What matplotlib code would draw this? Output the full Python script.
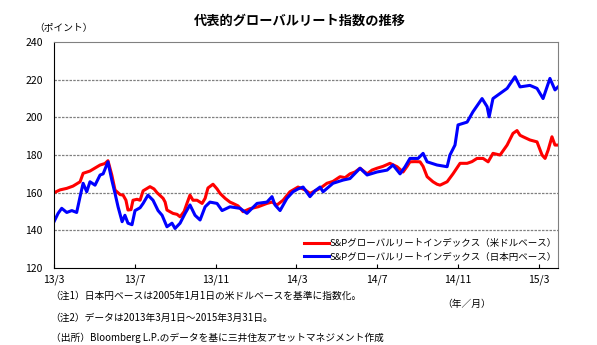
import matplotlib.pyplot as plt
import numpy as np

plt.rcParams['font.family'] = ['Noto Sans CJK JP', 'DejaVu Sans']

# months since 2013/3/1, values (points)
usd_month = [0.0, 0.30, 0.63, 0.94, 1.29, 1.44, 1.78, 2.28, 2.52, 2.67, 2.86,
             3.02, 3.27, 3.42, 3.56, 3.66, 3.81, 3.91, 4.11, 4.26, 4.41, 4.75,
             4.95, 5.10, 5.40, 5.50, 5.59, 5.89, 6.09, 6.24, 6.44, 6.58, 6.73,
             6.88, 7.08, 7.33, 7.48, 7.62, 7.87, 8.07, 8.22, 8.47, 8.71, 8.86,
             9.11, 9.36, 9.70, 10.10, 10.54, 10.79, 11.04, 11.34, 11.68, 12.08, 12.43,
             12.67, 12.92, 13.17, 13.51, 13.81, 14.16, 14.41, 14.65, 14.90, 15.15, 15.50,
             15.74, 15.99, 16.29, 16.63, 16.98, 17.28, 17.48, 17.62, 17.87, 18.12, 18.27,
             18.47, 18.76, 18.96, 19.11, 19.46, 19.75, 20.10, 20.45, 20.69, 20.94, 21.24,
             21.49, 21.73, 22.08, 22.43, 22.72, 22.92, 23.07, 23.22, 23.56, 23.91, 24.16,
             24.31, 24.46, 24.65, 24.80, 24.95]
usd_value = [160.0, 161.5, 162.3, 163.5, 165.8, 170.3, 171.5, 174.7, 175.5, 177.0, 169.4,
             161.4, 159.0, 158.7, 156.0, 150.8, 151.0, 156.0, 156.5, 156.0, 161.0, 163.2,
             162.0, 160.0, 157.0, 155.0, 150.8, 149.0, 148.5, 147.2, 150.0, 154.3, 158.7,
             156.0, 156.0, 154.3, 157.0, 162.5, 164.5, 162.0, 159.6, 157.0, 155.0, 154.3,
             153.0, 149.9, 151.5, 152.5, 154.3, 155.0, 153.5, 156.0, 160.5, 163.0, 161.5,
             159.6, 161.0, 162.3, 165.0, 166.0, 168.5, 168.0, 170.0, 171.0, 173.0, 170.0,
             172.0, 173.0, 174.0, 175.6, 173.8, 171.0, 174.0, 176.4, 176.5, 176.4, 174.0,
             168.5, 165.8, 164.5, 164.0, 165.8, 170.0, 175.6, 175.6, 176.5, 178.2, 178.2,
             176.4, 180.9, 180.0, 185.3, 191.5, 193.0, 190.5, 189.7, 188.0, 187.0, 180.0,
             178.2, 182.6, 189.7, 185.3, 185.3]

jpy_month = [0.0, 0.20, 0.38, 0.63, 0.88, 1.12, 1.29, 1.44, 1.62, 1.78, 2.03,
             2.28, 2.43, 2.67, 2.86, 3.02, 3.17, 3.37, 3.51, 3.66, 3.86, 4.01,
             4.26, 4.41, 4.65, 4.90, 5.15, 5.35, 5.59, 5.84, 5.99, 6.24, 6.49,
             6.73, 6.98, 7.23, 7.48, 7.72, 8.07, 8.32, 8.71, 9.21, 9.55, 10.05,
             10.54, 10.79, 10.94, 11.19, 11.53, 11.83, 12.08, 12.33, 12.67, 12.92, 13.17,
             13.32, 13.81, 14.31, 14.65, 15.15, 15.50, 15.99, 16.49, 16.78, 17.13, 17.38,
             17.62, 18.02, 18.27, 18.47, 18.96, 19.46, 19.60, 19.85, 20.00, 20.45, 20.74,
             21.19, 21.44, 21.54, 21.73, 22.08, 22.43, 22.82, 23.07, 23.56, 23.91, 24.21,
             24.55, 24.80, 24.95]
jpy_value = [144.6, 149.0, 151.7, 149.5, 150.5, 149.5, 157.9, 165.0, 160.5, 165.8, 164.0,
             169.4, 170.0, 176.4, 166.7, 159.6, 152.5, 144.6, 148.0, 143.8, 143.0, 150.5,
             152.0, 154.3, 158.7, 156.0, 150.5, 148.0, 141.9, 143.8, 141.0, 143.8, 149.0,
             153.5, 148.0, 145.5, 152.5, 155.0, 154.3, 150.5, 152.5, 151.7, 149.0, 154.3,
             155.0, 157.9, 153.5, 150.5, 157.0, 160.5, 162.0, 163.0, 157.9, 161.0, 163.0,
             160.5, 165.0, 166.7, 167.5, 173.0, 169.4, 171.0, 172.0, 174.7, 170.0, 173.8,
             178.2, 178.2, 180.9, 176.4, 174.7, 173.8, 180.0, 185.3, 196.0, 197.5, 203.0,
             210.0, 205.7, 200.3, 210.0, 212.7, 215.4, 221.6, 216.2, 217.0, 215.4, 210.0,
             220.7, 214.6, 216.2]

tick_pos = [0, 4, 8, 12, 16, 20, 24]
tick_lab = ['13/3', '13/7', '13/11', '14/3', '14/7', '14/11', '15/3']
y_ticks = [120, 140, 160, 180, 200, 220, 240]

fig = plt.figure(figsize=(5.97, 3.45), dpi=100)
ax = fig.add_axes([0.0905, 0.2232, 0.8442, 0.6548])

ax.plot(usd_month, usd_value, color='#ff0000', lw=2.2,
        label='S&Pグローバルリートインデックス（米ドルベース）')
ax.plot(jpy_month, jpy_value, color='#0000ff', lw=2.2,
        label='S&Pグローバルリートインデックス（日本円ベース）')

ax.set_xlim(0, 24.95)
ax.set_ylim(120, 240)
ax.set_yticks(y_ticks)
ax.set_xticks(tick_pos)
ax.set_xticklabels(tick_lab, fontsize=7.5)
ax.tick_params(axis='y', length=0, labelsize=7.5, pad=8)
ax.tick_params(axis='x', direction='in', length=3, labelsize=7.5, pad=5)
for y in y_ticks[1:-1]:
    ax.axhline(y, color='#808080', lw=0.9, ls=(0, (2, 1)), zorder=0)

ax.spines['top'].set_color('#808080')
ax.spines['top'].set_linestyle((0, (2, 1)))
ax.spines['right'].set_color('#808080')
ax.spines['left'].set_color('black')
ax.spines['bottom'].set_color('black')

ax.legend(loc='lower left', bbox_to_anchor=(0.48, -0.01), frameon=False, fontsize=6.8,
          handlelength=2.6, handletextpad=0.1, labelspacing=0.45)

fig.text(0.503, 0.94, '代表的グローバルリート指数の推移', ha='center', va='center',
         fontsize=9.5, fontweight='bold')
fig.text(0.058, 0.918, '（ポイント）', ha='left', va='center', fontsize=7)
fig.text(0.822, 0.12, '（年／月）', ha='right', va='center', fontsize=7)
fig.text(0.085, 0.142, '（注1）日本円ベースは2005年1月1日の米ドルベースを基準に指数化。',
         ha='left', va='center', fontsize=7)
fig.text(0.085, 0.08, '（注2）データは2013年3月1日～2015年3月31日。',
         ha='left', va='center', fontsize=7)
fig.text(0.085, 0.022, '（出所）Bloomberg L.P.のデータを基に三井住友アセットマネジメント作成',
         ha='left', va='center', fontsize=7)

fig.savefig('out.png', dpi=100)
